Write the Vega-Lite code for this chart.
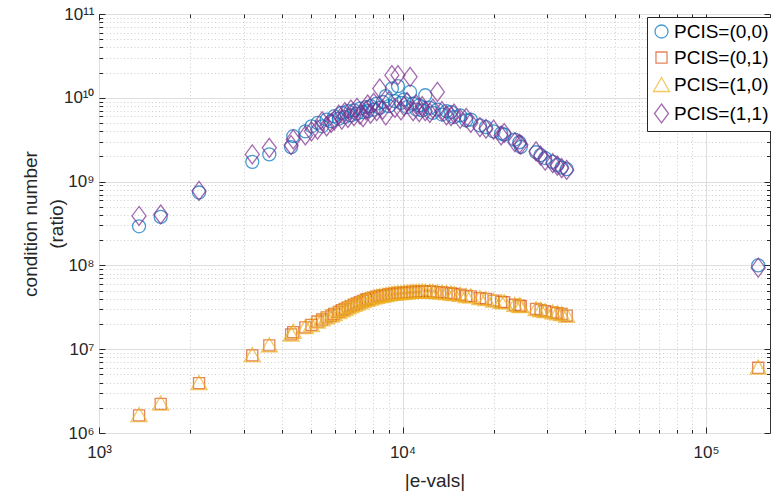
{
"$schema": "https://vega.github.io/schema/vega-lite/v6.json",
"width": 671, "height": 419,
"autosize": {"type": "none"},
"padding": {"left": 99, "top": 14, "right": 1, "bottom": 64},
"background": "white",
"config": {
  "font": "Liberation Sans",
  "view": {"stroke": "#333333", "strokeWidth": 1},
  "axis": {"labelFont": "Liberation Sans", "titleFont": "Liberation Sans", "labelColor": "#262626", "titleColor": "#262626", "tickColor": "#262626", "domain": false, "titleFontWeight": "normal", "labelOverlap": false, "labelFlush": false, "tickWidth": 1}
},
"data": {"values": [
{"x":1355,"y":2.93e8,"p":"PCIS=(0,0)"},{"x":1597,"y":3.79e8,"p":"PCIS=(0,0)"},{"x":2136,"y":7.41e8,"p":"PCIS=(0,0)"},{"x":3199,"y":1.72e9,"p":"PCIS=(0,0)"},{"x":3640,"y":2.11e9,"p":"PCIS=(0,0)"},{"x":4295,"y":2.58e9,"p":"PCIS=(0,0)"},{"x":4365,"y":3.48e9,"p":"PCIS=(0,0)"},
{"x":4786,"y":3.98e9,"p":"PCIS=(0,0)"},{"x":5012,"y":4.57e9,"p":"PCIS=(0,0)"},{"x":5248,"y":5.01e9,"p":"PCIS=(0,0)"},{"x":5433,"y":4.57e9,"p":"PCIS=(0,0)"},{"x":5623,"y":5.50e9,"p":"PCIS=(0,0)"},{"x":5821,"y":5.25e9,"p":"PCIS=(0,0)"},{"x":5957,"y":6.03e9,"p":"PCIS=(0,0)"},{"x":6166,"y":5.62e9,"p":"PCIS=(0,0)"},{"x":6310,"y":6.61e9,"p":"PCIS=(0,0)"},{"x":6457,"y":5.89e9,"p":"PCIS=(0,0)"},{"x":6607,"y":6.92e9,"p":"PCIS=(0,0)"},{"x":6761,"y":6.17e9,"p":"PCIS=(0,0)"},{"x":6918,"y":7.08e9,"p":"PCIS=(0,0)"},{"x":7079,"y":6.46e9,"p":"PCIS=(0,0)"},{"x":7244,"y":7.41e9,"p":"PCIS=(0,0)"},{"x":7413,"y":6.76e9,"p":"PCIS=(0,0)"},{"x":7586,"y":7.76e9,"p":"PCIS=(0,0)"},{"x":7674,"y":6.92e9,"p":"PCIS=(0,0)"},{"x":7852,"y":7.94e9,"p":"PCIS=(0,0)"},{"x":8035,"y":7.24e9,"p":"PCIS=(0,0)"},{"x":8222,"y":8.51e9,"p":"PCIS=(0,0)"},{"x":8414,"y":7.59e9,"p":"PCIS=(0,0)"},{"x":8610,"y":8.91e9,"p":"PCIS=(0,0)"},{"x":8810,"y":1.047e10,"p":"PCIS=(0,0)"},{"x":9016,"y":7.94e9,"p":"PCIS=(0,0)"},{"x":9226,"y":1.288e10,"p":"PCIS=(0,0)"},{"x":9441,"y":9.12e9,"p":"PCIS=(0,0)"},{"x":9661,"y":1.38e10,"p":"PCIS=(0,0)"},{"x":9886,"y":8.71e9,"p":"PCIS=(0,0)"},{"x":10116,"y":9.55e9,"p":"PCIS=(0,0)"},{"x":10351,"y":7.76e9,"p":"PCIS=(0,0)"},{"x":10593,"y":1.175e10,"p":"PCIS=(0,0)"},{"x":10839,"y":8.51e9,"p":"PCIS=(0,0)"},{"x":11092,"y":7.24e9,"p":"PCIS=(0,0)"},{"x":11350,"y":8.13e9,"p":"PCIS=(0,0)"},{"x":11614,"y":7.08e9,"p":"PCIS=(0,0)"},{"x":11885,"y":1.072e10,"p":"PCIS=(0,0)"},{"x":12303,"y":7.59e9,"p":"PCIS=(0,0)"},{"x":12589,"y":6.61e9,"p":"PCIS=(0,0)"},{"x":13032,"y":7.24e9,"p":"PCIS=(0,0)"},{"x":13490,"y":6.31e9,"p":"PCIS=(0,0)"},{"x":13964,"y":6.92e9,"p":"PCIS=(0,0)"},{"x":14454,"y":6.76e9,"p":"PCIS=(0,0)"},{"x":14791,"y":5.89e9,"p":"PCIS=(0,0)"},{"x":15488,"y":6.17e9,"p":"PCIS=(0,0)"},{"x":16218,"y":5.37e9,"p":"PCIS=(0,0)"},{"x":16788,"y":5.50e9,"p":"PCIS=(0,0)"},{"x":17989,"y":4.68e9,"p":"PCIS=(0,0)"},{"x":18836,"y":4.47e9,"p":"PCIS=(0,0)"},{"x":19953,"y":3.98e9,"p":"PCIS=(0,0)"},{"x":21135,"y":3.76e9,"p":"PCIS=(0,0)"},{"x":21627,"y":3.63e9,"p":"PCIS=(0,0)"},{"x":23442,"y":3.16e9,"p":"PCIS=(0,0)"},{"x":24266,"y":2.95e9,"p":"PCIS=(0,0)"},{"x":24547,"y":2.60e9,"p":"PCIS=(0,0)"},{"x":27542,"y":2.24e9,"p":"PCIS=(0,0)"},{"x":28510,"y":2.07e9,"p":"PCIS=(0,0)"},{"x":29512,"y":1.91e9,"p":"PCIS=(0,0)"},{"x":31261,"y":1.72e9,"p":"PCIS=(0,0)"},{"x":32359,"y":1.58e9,"p":"PCIS=(0,0)"},{"x":33457,"y":1.47e9,"p":"PCIS=(0,0)"},{"x":34754,"y":1.41e9,"p":"PCIS=(0,0)"},{"x":148600,"y":1.0e8,"p":"PCIS=(0,0)"},
{"x":1355,"y":1.62e6,"p":"PCIS=(0,1)"},{"x":1597,"y":2.23e6,"p":"PCIS=(0,1)"},{"x":2136,"y":3.94e6,"p":"PCIS=(0,1)"},{"x":3199,"y":8.43e6,"p":"PCIS=(0,1)"},{"x":3640,"y":1.11e7,"p":"PCIS=(0,1)"},{"x":4295,"y":1.50e7,"p":"PCIS=(0,1)"},{"x":4365,"y":1.60e7,"p":"PCIS=(0,1)"},
{"x":4786,"y":1.82e7,"p":"PCIS=(0,1)"},{"x":5012,"y":1.95e7,"p":"PCIS=(0,1)"},{"x":5248,"y":2.14e7,"p":"PCIS=(0,1)"},{"x":5433,"y":2.26e7,"p":"PCIS=(0,1)"},{"x":5623,"y":2.40e7,"p":"PCIS=(0,1)"},{"x":5821,"y":2.51e7,"p":"PCIS=(0,1)"},{"x":5957,"y":2.63e7,"p":"PCIS=(0,1)"},{"x":6166,"y":2.79e7,"p":"PCIS=(0,1)"},{"x":6310,"y":2.92e7,"p":"PCIS=(0,1)"},{"x":6457,"y":3.02e7,"p":"PCIS=(0,1)"},{"x":6607,"y":3.16e7,"p":"PCIS=(0,1)"},{"x":6761,"y":3.27e7,"p":"PCIS=(0,1)"},{"x":6918,"y":3.39e7,"p":"PCIS=(0,1)"},{"x":7079,"y":3.51e7,"p":"PCIS=(0,1)"},{"x":7244,"y":3.63e7,"p":"PCIS=(0,1)"},{"x":7413,"y":3.76e7,"p":"PCIS=(0,1)"},{"x":7586,"y":3.89e7,"p":"PCIS=(0,1)"},{"x":7674,"y":3.94e7,"p":"PCIS=(0,1)"},{"x":7852,"y":4.03e7,"p":"PCIS=(0,1)"},{"x":8035,"y":4.12e7,"p":"PCIS=(0,1)"},{"x":8222,"y":4.22e7,"p":"PCIS=(0,1)"},{"x":8414,"y":4.32e7,"p":"PCIS=(0,1)"},{"x":8610,"y":4.37e7,"p":"PCIS=(0,1)"},{"x":8810,"y":4.42e7,"p":"PCIS=(0,1)"},{"x":9016,"y":4.52e7,"p":"PCIS=(0,1)"},{"x":9226,"y":4.57e7,"p":"PCIS=(0,1)"},{"x":9441,"y":4.62e7,"p":"PCIS=(0,1)"},{"x":9661,"y":4.68e7,"p":"PCIS=(0,1)"},{"x":9886,"y":4.70e7,"p":"PCIS=(0,1)"},{"x":10116,"y":4.74e7,"p":"PCIS=(0,1)"},{"x":10351,"y":4.79e7,"p":"PCIS=(0,1)"},{"x":10593,"y":4.81e7,"p":"PCIS=(0,1)"},{"x":10839,"y":4.84e7,"p":"PCIS=(0,1)"},{"x":11092,"y":4.86e7,"p":"PCIS=(0,1)"},{"x":11350,"y":4.90e7,"p":"PCIS=(0,1)"},{"x":11614,"y":4.90e7,"p":"PCIS=(0,1)"},{"x":11885,"y":4.90e7,"p":"PCIS=(0,1)"},{"x":12303,"y":4.90e7,"p":"PCIS=(0,1)"},{"x":12589,"y":4.84e7,"p":"PCIS=(0,1)"},{"x":13032,"y":4.79e7,"p":"PCIS=(0,1)"},{"x":13490,"y":4.75e7,"p":"PCIS=(0,1)"},{"x":13964,"y":4.70e7,"p":"PCIS=(0,1)"},{"x":14454,"y":4.62e7,"p":"PCIS=(0,1)"},{"x":14791,"y":4.57e7,"p":"PCIS=(0,1)"},{"x":15488,"y":4.47e7,"p":"PCIS=(0,1)"},{"x":16218,"y":4.32e7,"p":"PCIS=(0,1)"},{"x":16788,"y":4.27e7,"p":"PCIS=(0,1)"},{"x":17989,"y":4.07e7,"p":"PCIS=(0,1)"},{"x":18836,"y":3.98e7,"p":"PCIS=(0,1)"},{"x":19953,"y":3.80e7,"p":"PCIS=(0,1)"},{"x":21135,"y":3.67e7,"p":"PCIS=(0,1)"},{"x":21627,"y":3.63e7,"p":"PCIS=(0,1)"},{"x":23442,"y":3.39e7,"p":"PCIS=(0,1)"},{"x":24266,"y":3.31e7,"p":"PCIS=(0,1)"},{"x":24547,"y":3.27e7,"p":"PCIS=(0,1)"},{"x":27542,"y":3.02e7,"p":"PCIS=(0,1)"},{"x":28510,"y":2.92e7,"p":"PCIS=(0,1)"},{"x":29512,"y":2.85e7,"p":"PCIS=(0,1)"},{"x":31261,"y":2.75e7,"p":"PCIS=(0,1)"},{"x":32359,"y":2.69e7,"p":"PCIS=(0,1)"},{"x":33457,"y":2.63e7,"p":"PCIS=(0,1)"},{"x":34754,"y":2.51e7,"p":"PCIS=(0,1)"},{"x":148600,"y":6.0e6,"p":"PCIS=(0,1)"},
{"x":1355,"y":1.66e6,"p":"PCIS=(1,0)"},{"x":1597,"y":2.28e6,"p":"PCIS=(1,0)"},{"x":2136,"y":4.0e6,"p":"PCIS=(1,0)"},{"x":3199,"y":8.6e6,"p":"PCIS=(1,0)"},{"x":3640,"y":1.13e7,"p":"PCIS=(1,0)"},{"x":4295,"y":1.52e7,"p":"PCIS=(1,0)"},{"x":4365,"y":1.63e7,"p":"PCIS=(1,0)"},
{"x":4786,"y":1.86e7,"p":"PCIS=(1,0)"},{"x":5012,"y":1.97e7,"p":"PCIS=(1,0)"},{"x":5248,"y":2.17e7,"p":"PCIS=(1,0)"},{"x":5433,"y":2.30e7,"p":"PCIS=(1,0)"},{"x":5623,"y":2.43e7,"p":"PCIS=(1,0)"},{"x":5821,"y":2.55e7,"p":"PCIS=(1,0)"},{"x":5957,"y":2.67e7,"p":"PCIS=(1,0)"},{"x":6166,"y":2.82e7,"p":"PCIS=(1,0)"},{"x":6310,"y":2.96e7,"p":"PCIS=(1,0)"},{"x":6457,"y":3.05e7,"p":"PCIS=(1,0)"},{"x":6607,"y":3.21e7,"p":"PCIS=(1,0)"},{"x":6761,"y":3.31e7,"p":"PCIS=(1,0)"},{"x":6918,"y":3.43e7,"p":"PCIS=(1,0)"},{"x":7079,"y":3.55e7,"p":"PCIS=(1,0)"},{"x":7244,"y":3.68e7,"p":"PCIS=(1,0)"},{"x":7413,"y":3.80e7,"p":"PCIS=(1,0)"},{"x":7586,"y":3.94e7,"p":"PCIS=(1,0)"},{"x":7674,"y":3.99e7,"p":"PCIS=(1,0)"},{"x":7852,"y":4.08e7,"p":"PCIS=(1,0)"},{"x":8035,"y":4.18e7,"p":"PCIS=(1,0)"},{"x":8222,"y":4.27e7,"p":"PCIS=(1,0)"},{"x":8414,"y":4.37e7,"p":"PCIS=(1,0)"},{"x":8610,"y":4.42e7,"p":"PCIS=(1,0)"},{"x":8810,"y":4.47e7,"p":"PCIS=(1,0)"},{"x":9016,"y":4.58e7,"p":"PCIS=(1,0)"},{"x":9226,"y":4.63e7,"p":"PCIS=(1,0)"},{"x":9441,"y":4.68e7,"p":"PCIS=(1,0)"},{"x":9661,"y":4.73e7,"p":"PCIS=(1,0)"},{"x":9886,"y":4.75e7,"p":"PCIS=(1,0)"},{"x":10116,"y":4.80e7,"p":"PCIS=(1,0)"},{"x":10351,"y":4.84e7,"p":"PCIS=(1,0)"},{"x":10593,"y":4.87e7,"p":"PCIS=(1,0)"},{"x":10839,"y":4.90e7,"p":"PCIS=(1,0)"},{"x":11092,"y":4.92e7,"p":"PCIS=(1,0)"},{"x":11350,"y":4.95e7,"p":"PCIS=(1,0)"},{"x":11614,"y":4.96e7,"p":"PCIS=(1,0)"},{"x":11885,"y":4.95e7,"p":"PCIS=(1,0)"},{"x":12303,"y":4.95e7,"p":"PCIS=(1,0)"},{"x":12589,"y":4.89e7,"p":"PCIS=(1,0)"},{"x":13032,"y":4.84e7,"p":"PCIS=(1,0)"},{"x":13490,"y":4.80e7,"p":"PCIS=(1,0)"},{"x":13964,"y":4.75e7,"p":"PCIS=(1,0)"},{"x":14454,"y":4.67e7,"p":"PCIS=(1,0)"},{"x":14791,"y":4.62e7,"p":"PCIS=(1,0)"},{"x":15488,"y":4.52e7,"p":"PCIS=(1,0)"},{"x":16218,"y":4.37e7,"p":"PCIS=(1,0)"},{"x":16788,"y":4.32e7,"p":"PCIS=(1,0)"},{"x":17989,"y":4.12e7,"p":"PCIS=(1,0)"},{"x":18836,"y":4.03e7,"p":"PCIS=(1,0)"},{"x":19953,"y":3.85e7,"p":"PCIS=(1,0)"},{"x":21135,"y":3.72e7,"p":"PCIS=(1,0)"},{"x":21627,"y":3.68e7,"p":"PCIS=(1,0)"},{"x":23442,"y":3.43e7,"p":"PCIS=(1,0)"},{"x":24266,"y":3.36e7,"p":"PCIS=(1,0)"},{"x":24547,"y":3.31e7,"p":"PCIS=(1,0)"},{"x":27542,"y":3.06e7,"p":"PCIS=(1,0)"},{"x":28510,"y":2.96e7,"p":"PCIS=(1,0)"},{"x":29512,"y":2.89e7,"p":"PCIS=(1,0)"},{"x":31261,"y":2.79e7,"p":"PCIS=(1,0)"},{"x":32359,"y":2.72e7,"p":"PCIS=(1,0)"},{"x":33457,"y":2.66e7,"p":"PCIS=(1,0)"},{"x":34754,"y":2.54e7,"p":"PCIS=(1,0)"},{"x":148600,"y":6.1e6,"p":"PCIS=(1,0)"},
{"x":1355,"y":3.89e8,"p":"PCIS=(1,1)"},{"x":1597,"y":4.05e8,"p":"PCIS=(1,1)"},{"x":2136,"y":7.74e8,"p":"PCIS=(1,1)"},{"x":3199,"y":2.11e9,"p":"PCIS=(1,1)"},{"x":3640,"y":2.53e9,"p":"PCIS=(1,1)"},{"x":4295,"y":2.72e9,"p":"PCIS=(1,1)"},{"x":4365,"y":3.19e9,"p":"PCIS=(1,1)"},
{"x":4786,"y":3.55e9,"p":"PCIS=(1,1)"},{"x":5012,"y":3.98e9,"p":"PCIS=(1,1)"},{"x":5248,"y":4.17e9,"p":"PCIS=(1,1)"},{"x":5433,"y":5.25e9,"p":"PCIS=(1,1)"},{"x":5623,"y":4.57e9,"p":"PCIS=(1,1)"},{"x":5821,"y":5.01e9,"p":"PCIS=(1,1)"},{"x":5957,"y":5.37e9,"p":"PCIS=(1,1)"},{"x":6166,"y":6.31e9,"p":"PCIS=(1,1)"},{"x":6310,"y":5.50e9,"p":"PCIS=(1,1)"},{"x":6457,"y":6.76e9,"p":"PCIS=(1,1)"},{"x":6607,"y":5.75e9,"p":"PCIS=(1,1)"},{"x":6761,"y":7.24e9,"p":"PCIS=(1,1)"},{"x":6918,"y":6.03e9,"p":"PCIS=(1,1)"},{"x":7079,"y":7.59e9,"p":"PCIS=(1,1)"},{"x":7244,"y":6.31e9,"p":"PCIS=(1,1)"},{"x":7413,"y":5.89e9,"p":"PCIS=(1,1)"},{"x":7586,"y":7.08e9,"p":"PCIS=(1,1)"},{"x":7674,"y":8.32e9,"p":"PCIS=(1,1)"},{"x":7852,"y":6.46e9,"p":"PCIS=(1,1)"},{"x":8035,"y":8.71e9,"p":"PCIS=(1,1)"},{"x":8222,"y":6.92e9,"p":"PCIS=(1,1)"},{"x":8414,"y":1.288e10,"p":"PCIS=(1,1)"},{"x":8610,"y":7.24e9,"p":"PCIS=(1,1)"},{"x":8810,"y":6.17e9,"p":"PCIS=(1,1)"},{"x":9016,"y":9.12e9,"p":"PCIS=(1,1)"},{"x":9226,"y":1.862e10,"p":"PCIS=(1,1)"},{"x":9441,"y":7.59e9,"p":"PCIS=(1,1)"},{"x":9661,"y":1.862e10,"p":"PCIS=(1,1)"},{"x":9886,"y":7.08e9,"p":"PCIS=(1,1)"},{"x":10116,"y":7.94e9,"p":"PCIS=(1,1)"},{"x":10351,"y":8.91e9,"p":"PCIS=(1,1)"},{"x":10593,"y":1.778e10,"p":"PCIS=(1,1)"},{"x":10839,"y":6.92e9,"p":"PCIS=(1,1)"},{"x":11092,"y":8.32e9,"p":"PCIS=(1,1)"},{"x":11350,"y":6.76e9,"p":"PCIS=(1,1)"},{"x":11614,"y":7.94e9,"p":"PCIS=(1,1)"},{"x":11885,"y":6.92e9,"p":"PCIS=(1,1)"},{"x":12303,"y":6.61e9,"p":"PCIS=(1,1)"},{"x":12589,"y":7.41e9,"p":"PCIS=(1,1)"},{"x":13032,"y":1.175e10,"p":"PCIS=(1,1)"},{"x":13490,"y":6.92e9,"p":"PCIS=(1,1)"},{"x":13964,"y":6.17e9,"p":"PCIS=(1,1)"},{"x":14454,"y":6.03e9,"p":"PCIS=(1,1)"},{"x":14791,"y":6.46e9,"p":"PCIS=(1,1)"},{"x":15488,"y":5.62e9,"p":"PCIS=(1,1)"},{"x":16218,"y":5.75e9,"p":"PCIS=(1,1)"},{"x":16788,"y":5.01e9,"p":"PCIS=(1,1)"},{"x":17989,"y":4.47e9,"p":"PCIS=(1,1)"},{"x":18836,"y":4.27e9,"p":"PCIS=(1,1)"},{"x":19953,"y":4.17e9,"p":"PCIS=(1,1)"},{"x":21135,"y":3.55e9,"p":"PCIS=(1,1)"},{"x":21627,"y":3.80e9,"p":"PCIS=(1,1)"},{"x":23442,"y":2.95e9,"p":"PCIS=(1,1)"},{"x":24266,"y":2.82e9,"p":"PCIS=(1,1)"},{"x":24547,"y":2.75e9,"p":"PCIS=(1,1)"},{"x":27542,"y":2.29e9,"p":"PCIS=(1,1)"},{"x":28510,"y":2.04e9,"p":"PCIS=(1,1)"},{"x":29512,"y":1.78e9,"p":"PCIS=(1,1)"},{"x":31261,"y":1.66e9,"p":"PCIS=(1,1)"},{"x":32359,"y":1.55e9,"p":"PCIS=(1,1)"},{"x":33457,"y":1.45e9,"p":"PCIS=(1,1)"},{"x":34754,"y":1.38e9,"p":"PCIS=(1,1)"},{"x":148600,"y":9.4e7,"p":"PCIS=(1,1)"}
]},
"layer": [
  {
    "mark": {"type": "point", "filled": false, "size": 169, "strokeWidth": 1.3},
    "encoding": {
      "x": {"field": "x", "type": "quantitative",
        "scale": {"type": "log", "domain": [1000, 162500], "nice": false},
        "axis": {"orient": "bottom",
          "values": [1000,2000,3000,4000,5000,6000,7000,8000,9000,10000,20000,30000,40000,50000,60000,70000,80000,90000,100000],
          "labelExpr": "datum.value == 1000 ? '10³' : datum.value == 10000 ? '10⁴' : datum.value == 100000 ? '10⁵' : ''",
          "labelFontSize": 17, "labelPadding": 17, "labelAlign": "center", "labelBaseline": "top",
          "tickSize": {"condition": {"test": "indexof([1000,10000,100000], datum.value) >= 0", "value": -6}, "value": -3.5},
          "grid": true,
          "gridColor": {"condition": {"test": "indexof([1000,10000,100000], datum.value) >= 0", "value": "#dedede"}, "value": "#cfcfcf"},
          "gridDash": {"condition": {"test": "indexof([1000,10000,100000], datum.value) >= 0", "value": []}, "value": [1, 2.5]},
          "gridWidth": 1,
          "title": "|e-vals|", "titleFontSize": 19, "titleX": 335.5, "titleY": 47, "titleBaseline": "middle", "titleAlign": "center"}},
      "y": {"field": "y", "type": "quantitative",
        "scale": {"type": "log", "domain": [1000000, 100000000000], "nice": false},
        "axis": {"orient": "left",
          "values": [1e6,2e6,3e6,4e6,5e6,6e6,7e6,8e6,9e6,1e7,2e7,3e7,4e7,5e7,6e7,7e7,8e7,9e7,1e8,2e8,3e8,4e8,5e8,6e8,7e8,8e8,9e8,1e9,2e9,3e9,4e9,5e9,6e9,7e9,8e9,9e9,1e10,2e10,3e10,4e10,5e10,6e10,7e10,8e10,9e10,1e11],
          "labelExpr": "datum.value == 1e6 ? '10⁶' : datum.value == 1e7 ? '10⁷' : datum.value == 1e8 ? '10⁸' : datum.value == 1e9 ? '10⁹' : datum.value == 1e10 ? '10¹⁰' : datum.value == 1e11 ? '10¹¹' : ''",
          "labelFontSize": 17, "labelPadding": 11, "labelAlign": "right", "labelBaseline": "middle",
          "tickSize": {"condition": {"test": "indexof([1e6,1e7,1e8,1e9,1e10,1e11], datum.value) >= 0", "value": -6}, "value": -3.5},
          "grid": true,
          "gridColor": {"condition": {"test": "indexof([1e6,1e7,1e8,1e9,1e10,1e11], datum.value) >= 0", "value": "#dedede"}, "value": "#cfcfcf"},
          "gridDash": {"condition": {"test": "indexof([1e6,1e7,1e8,1e9,1e10,1e11], datum.value) >= 0", "value": []}, "value": [1, 2.5]},
          "gridWidth": 1,
          "title": ["condition number", "(ratio)"], "titleFontSize": 19, "titleLineHeight": 26,
          "titleX": -69, "titleY": 209.5, "titleAngle": -90, "titleAlign": "center", "titleBaseline": "middle"}},
      "color": {"field": "p", "type": "nominal",
        "scale": {"domain": ["PCIS=(0,0)","PCIS=(0,1)","PCIS=(1,0)","PCIS=(1,1)"], "range": ["#0072BD","#D95319","#EDB120","#7E2F8E"]},
        "legend": {"orient": "none", "legendX": 548, "legendY": 3, "title": null, "labelFontSize": 19, "labelColor": "#000000", "labelFont": "Liberation Sans", "strokeColor": "#262626", "fillColor": "#ffffff", "padding": 5, "rowPadding": 6, "labelOffset": 3, "symbolSize": 169, "symbolStrokeWidth": 1.3}},
      "shape": {"field": "p", "type": "nominal",
        "scale": {"domain": ["PCIS=(0,0)","PCIS=(0,1)","PCIS=(1,0)","PCIS=(1,1)"], "range": ["circle", "M-0.85,-0.85L0.85,-0.85L0.85,0.85L-0.85,0.85Z", "M0,-1.08L1.23,1.08L-1.23,1.08Z", "M0,-1.46L1.08,0L0,1.46L-1.08,0Z"]}}
    }
  },
  {
    "mark": {"type": "point", "opacity": 0},
    "encoding": {
      "x": {"field": "x", "type": "quantitative",
        "scale": {"type": "log", "domain": [1000, 162500], "nice": false},
        "axis": {"orient": "top",
          "values": [1000,2000,3000,4000,5000,6000,7000,8000,9000,10000,20000,30000,40000,50000,60000,70000,80000,90000,100000],
          "labels": false, "grid": false, "title": null,
          "tickSize": {"condition": {"test": "indexof([1000,10000,100000], datum.value) >= 0", "value": -6}, "value": -3.5}}},
      "y": {"field": "y", "type": "quantitative",
        "scale": {"type": "log", "domain": [1000000, 100000000000], "nice": false},
        "axis": {"orient": "right",
          "values": [1e6,2e6,3e6,4e6,5e6,6e6,7e6,8e6,9e6,1e7,2e7,3e7,4e7,5e7,6e7,7e7,8e7,9e7,1e8,2e8,3e8,4e8,5e8,6e8,7e8,8e8,9e8,1e9,2e9,3e9,4e9,5e9,6e9,7e9,8e9,9e9,1e10,2e10,3e10,4e10,5e10,6e10,7e10,8e10,9e10,1e11],
          "labels": false, "grid": false, "title": null,
          "tickSize": {"condition": {"test": "indexof([1e6,1e7,1e8,1e9,1e10,1e11], datum.value) >= 0", "value": -6}, "value": -3.5}}}
    }
  }
],
"resolve": {"axis": {"x": "independent", "y": "independent"}}
}
